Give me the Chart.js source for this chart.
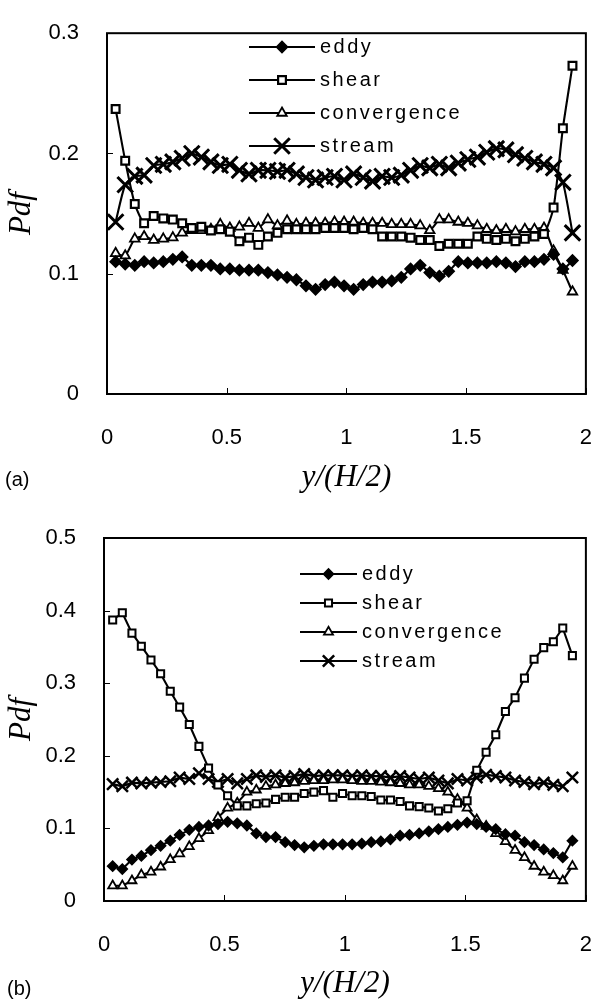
<!DOCTYPE html>
<html lang="en">
<head>
<meta charset="UTF-8">
<title>Pdf profiles</title>
<script src="https://cdn.jsdelivr.net/npm/chart.js"></script>
<style>
    body { margin: 0; background: #fff; }
    .panel { position: absolute; left: 0; width: 615px; }
    .tag { position: absolute; font: 20px "Liberation Sans", Arial, sans-serif; color: #000; }
</style>
</head>
<body>
<div class="panel" style="top:0;height:500px"><canvas id="chartA" width="615" height="500"></canvas></div>
<div class="panel" style="top:500px;height:502px"><canvas id="chartB" width="615" height="502"></canvas></div>
<div class="tag" style="left:5px;top:468px">(a)</div>
<div class="tag" style="left:7px;top:977px">(b)</div>

<script>
// bin centres, y/(H/2)
const yPos = [0.036, 0.076, 0.116, 0.155, 0.195, 0.235, 0.275, 0.314, 0.354, 0.394,
              0.434, 0.473, 0.513, 0.553, 0.593, 0.632, 0.672, 0.712, 0.752, 0.791,
              0.831, 0.871, 0.911, 0.950, 0.990, 1.030, 1.070, 1.109, 1.149, 1.189,
              1.229, 1.268, 1.308, 1.348, 1.388, 1.427, 1.467, 1.507, 1.547, 1.586,
              1.626, 1.666, 1.706, 1.745, 1.785, 1.825, 1.865, 1.904, 1.944];

// (a)
const eddyA = [0.110, 0.108, 0.107, 0.110, 0.109, 0.110, 0.112, 0.114, 0.107, 0.107,
               0.107, 0.104, 0.104, 0.103, 0.103, 0.103, 0.101, 0.099, 0.097, 0.095,
               0.090, 0.087, 0.091, 0.093, 0.090, 0.087, 0.091, 0.093, 0.093, 0.094,
               0.097, 0.104, 0.107, 0.101, 0.098, 0.102, 0.110, 0.109, 0.109, 0.109,
               0.110, 0.109, 0.106, 0.110, 0.110, 0.112, 0.116, 0.104, 0.111];
const shearA = [0.237, 0.194, 0.158, 0.142, 0.148, 0.146, 0.145, 0.142, 0.138, 0.139,
                0.136, 0.137, 0.135, 0.127, 0.130, 0.124, 0.131, 0.134, 0.137, 0.137,
                0.137, 0.137, 0.138, 0.138, 0.138, 0.137, 0.138, 0.137, 0.131, 0.131,
                0.131, 0.130, 0.128, 0.128, 0.123, 0.125, 0.125, 0.125, 0.131, 0.129,
                0.128, 0.129, 0.127, 0.129, 0.131, 0.133, 0.155, 0.221, 0.273];
const convA = [0.117, 0.115, 0.129, 0.131, 0.128, 0.129, 0.130, 0.134, 0.136, 0.136,
               0.137, 0.141, 0.138, 0.139, 0.142, 0.138, 0.145, 0.140, 0.144, 0.141,
               0.142, 0.142, 0.142, 0.143, 0.143, 0.143, 0.142, 0.142, 0.142, 0.141,
               0.141, 0.141, 0.140, 0.136, 0.145, 0.145, 0.143, 0.142, 0.140, 0.137,
               0.136, 0.137, 0.135, 0.137, 0.137, 0.138, 0.119, 0.103, 0.085];
const streamA = [0.143, 0.174, 0.181, 0.182, 0.190, 0.191, 0.193, 0.196, 0.200, 0.197,
                 0.193, 0.190, 0.191, 0.186, 0.183, 0.186, 0.186, 0.185, 0.186, 0.183,
                 0.180, 0.178, 0.180, 0.181, 0.178, 0.183, 0.180, 0.177, 0.181, 0.180,
                 0.182, 0.186, 0.190, 0.188, 0.191, 0.188, 0.192, 0.195, 0.197, 0.201,
                 0.204, 0.203, 0.199, 0.196, 0.193, 0.191, 0.188, 0.176, 0.134];

// (b)
const eddyB = [0.048, 0.044, 0.057, 0.062, 0.070, 0.076, 0.083, 0.091, 0.098, 0.102,
               0.104, 0.106, 0.109, 0.107, 0.104, 0.093, 0.088, 0.088, 0.081, 0.077,
               0.074, 0.076, 0.078, 0.078, 0.078, 0.078, 0.079, 0.081, 0.082, 0.085,
               0.090, 0.091, 0.093, 0.096, 0.099, 0.102, 0.105, 0.108, 0.106, 0.102,
               0.099, 0.092, 0.090, 0.081, 0.077, 0.071, 0.066, 0.060, 0.083];
const shearB = [0.387, 0.397, 0.369, 0.351, 0.332, 0.313, 0.289, 0.267, 0.243, 0.213,
                0.183, 0.160, 0.145, 0.131, 0.131, 0.134, 0.135, 0.140, 0.143, 0.143,
                0.148, 0.150, 0.152, 0.143, 0.148, 0.145, 0.145, 0.144, 0.139, 0.139,
                0.137, 0.131, 0.130, 0.128, 0.124, 0.127, 0.135, 0.138, 0.180, 0.205,
                0.229, 0.261, 0.280, 0.307, 0.333, 0.349, 0.357, 0.376, 0.338];
const convB = [0.021, 0.021, 0.028, 0.036, 0.040, 0.047, 0.057, 0.065, 0.075, 0.086,
               0.097, 0.115, 0.128, 0.135, 0.150, 0.153, 0.158, 0.160, 0.162, 0.163,
               0.165, 0.166, 0.166, 0.167, 0.167, 0.166, 0.165, 0.165, 0.164, 0.163,
               0.162, 0.160, 0.160, 0.158, 0.155, 0.150, 0.140, 0.128, 0.112, 0.103,
               0.093, 0.082, 0.070, 0.060, 0.048, 0.040, 0.035, 0.028, 0.048];
const streamB = [0.161, 0.158, 0.163, 0.162, 0.163, 0.164, 0.165, 0.170, 0.168, 0.176,
                 0.168, 0.164, 0.168, 0.162, 0.168, 0.173, 0.171, 0.173, 0.170, 0.172,
                 0.175, 0.172, 0.173, 0.173, 0.173, 0.172, 0.173, 0.172, 0.172, 0.170,
                 0.172, 0.170, 0.168, 0.170, 0.166, 0.162, 0.168, 0.166, 0.170, 0.174,
                 0.172, 0.170, 0.166, 0.164, 0.161, 0.163, 0.160, 0.158, 0.170];

const seriesNames = ['eddy', 'shear', 'convergence', 'stream'];

const INK = '#000';
const tickFont = { family: '"Liberation Sans", Arial, sans-serif', size: 22 };
const titleFont = { family: '"Liberation Serif", "Times New Roman", serif', size: 31, style: 'italic' };

// frame round the plot and short inward tick marks
const framePlugin = {
    id: 'frame',
    afterDraw(chart) {
        const { ctx, chartArea: a, scales } = chart;
        ctx.save();
        ctx.strokeStyle = INK;
        ctx.lineWidth = 1;
        scales.x.ticks.forEach(t => {
            const px = Math.round(scales.x.getPixelForValue(t.value)) + 0.5;
            ctx.beginPath(); ctx.moveTo(px, a.bottom); ctx.lineTo(px, a.bottom - 6); ctx.stroke();
        });
        scales.y.ticks.forEach(t => {
            const py = Math.round(scales.y.getPixelForValue(t.value)) + 0.5;
            ctx.beginPath(); ctx.moveTo(a.left, py); ctx.lineTo(a.left + 6, py); ctx.stroke();
        });
        ctx.lineWidth = 2;
        ctx.strokeRect(a.left, a.top, a.right - a.left, a.bottom - a.top);
        ctx.restore();
    }
};

// legend drawn inside the plot area
const legendPlugin = {
    id: 'inlineLegend',
    afterDraw(chart, args, opts) {
        const ctx = chart.ctx;
        ctx.save();
        ctx.font = '20px "Liberation Sans", Arial, sans-serif';
        ctx.letterSpacing = '2.5px';
        ctx.textBaseline = 'middle';
        chart.data.datasets.forEach((ds, i) => {
            const y = opts.y0 + i * opts.dy;
            ctx.strokeStyle = INK;
            ctx.lineWidth = 2.2;
            ctx.beginPath(); ctx.moveTo(opts.x1, y); ctx.lineTo(opts.x2, y); ctx.stroke();
            ctx.fillStyle = ds.pointBackgroundColor;
            ctx.lineWidth = ds.pointBorderWidth;
            Chart.helpers.drawPoint(ctx, {
                pointStyle: ds.pointStyle, radius: ds.pointRadius,
                borderWidth: ds.pointBorderWidth, rotation: 0
            }, (opts.x1 + opts.x2) / 2, y);
            ctx.fillStyle = INK;
            ctx.fillText(ds.label, opts.textX, y);
        });
        ctx.restore();
    }
};

function series(label, values, style, radius, fill, width, tension) {
    return {
        label: label,
        data: yPos.map((x, i) => ({ x: x, y: values[i] })),
        borderColor: INK,
        borderWidth: 2.1,
        tension: tension,
        pointStyle: style,
        pointRadius: radius,
        pointBackgroundColor: fill,
        pointBorderColor: INK,
        pointBorderWidth: width
    };
}

function makeChart(id, sets, cfg) {
    return new Chart(document.getElementById(id), {
        type: 'line',
        data: { datasets: sets },
        options: {
            responsive: false,
            animation: false,
            layout: { padding: { top: cfg.top, right: 7, left: 0, bottom: 0 } },
            plugins: {
                legend: { display: false },
                tooltip: { enabled: false },
                inlineLegend: cfg.legend
            },
            scales: {
                x: {
                    type: 'linear', min: 0, max: 2,
                    afterFit: s => { s.height = cfg.xHeight; },
                    grid: { display: false },
                    border: { display: false },
                    ticks: {
                        stepSize: 0.5, padding: 23, font: tickFont, color: INK,
                        maxRotation: 0, callback: v => String(v)
                    },
                    title: {
                        display: true, text: 'y/(H/2)', font: titleFont, color: INK,
                        padding: { top: 0, bottom: cfg.titlePad }
                    }
                },
                y: {
                    min: 0, max: cfg.yMax,
                    afterFit: s => { s.width = cfg.yWidth; },
                    grid: { display: false },
                    border: { display: false },
                    ticks: {
                        stepSize: 0.1, padding: 20, font: tickFont, color: INK,
                        callback: v => v === 0 ? '0' : v.toFixed(1)
                    },
                    title: {
                        display: true, text: 'Pdf', font: titleFont, color: INK,
                        padding: { top: 3, bottom: 0 }
                    }
                }
            }
        },
        plugins: [framePlugin, legendPlugin]
    });
}

makeChart('chartA', [
    series(seriesNames[0], eddyA, 'rectRot', 5.5, INK, 1.6, 0.2),
    series(seriesNames[1], shearA, 'rect', 5.5, '#fff', 2.2, 0.2),
    series(seriesNames[2], convA, 'triangle', 5.5, '#fff', 1.8, 0.2),
    series(seriesNames[3], streamA, 'crossRot', 11, INK, 3, 0.2)
], { top: 13, xHeight: 106, yWidth: 107, yMax: 0.3, titlePad: 4,
     legend: { x1: 249, x2: 315, textX: 320, y0: 47, dy: 33 } });

makeChart('chartB', [
    series(seriesNames[0], eddyB, 'rectRot', 5, INK, 1.6, 0),
    series(seriesNames[1], shearB, 'rect', 5, '#fff', 2, 0),
    series(seriesNames[2], convB, 'triangle', 5.2, '#fff', 1.8, 0),
    series(seriesNames[3], streamB, 'crossRot', 8, INK, 2.5, 0)
], { top: 38, xHeight: 101, yWidth: 104, yMax: 0.5, titlePad: 0,
     legend: { x1: 300, x2: 357, textX: 362, y0: 74, dy: 29 } });
</script>
</body>
</html>
